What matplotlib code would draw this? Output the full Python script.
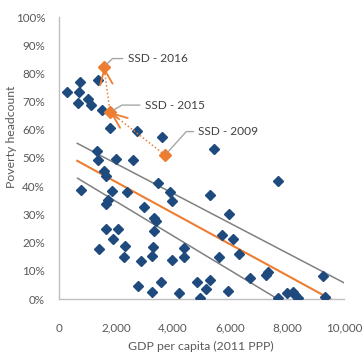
import matplotlib
matplotlib.use("Agg")
import matplotlib.pyplot as plt
import numpy as np

# GDP per capita (2011 PPP) and poverty headcount (%) by country
gdp = [290, 737, 710, 655, 1030, 1110, 1380, 1500, 1790, 2720,
       3620, 1340, 1380, 1990, 2590, 1590, 1650, 760, 1850, 2375,
       3460, 3890, 1730, 1640, 2990, 3330, 3400, 3950, 1650, 2060,
       3330, 1880, 2320, 1400, 3310, 2290, 3250, 2870, 3950, 2780,
       3580, 3270, 5450, 5300, 5980, 5730, 6120, 6320, 4400, 4390,
       5610, 6700, 4850, 5300, 5150, 5940, 4220, 4950, 7700, 7340,
       7260, 9270, 9330, 7670, 7990, 8220, 8280, 8370]
poverty = [73.5, 77.0, 73.5, 69.6, 71.0, 68.8, 77.7, 67.0, 60.5, 59.6,
           57.5, 52.6, 49.3, 49.6, 49.3, 45.5, 43.6, 38.6, 38.4, 38.0,
           41.0, 38.0, 35.1, 33.7, 32.5, 28.6, 27.8, 34.8, 24.8, 25.0,
           24.1, 21.3, 18.9, 17.7, 18.5, 15.0, 15.2, 13.5, 13.8, 4.7,
           6.1, 2.6, 53.2, 36.9, 30.0, 22.7, 21.3, 16.0, 18.2, 15.0,
           14.8, 7.3, 6.1, 6.7, 3.5, 2.8, 2.2, 0.2, 42.0, 9.7,
           8.5, 8.3, 0.8, 0.5, 2.0, 2.6, 1.4, 0.3]

# South Sudan over time
ssd_years = ["2009", "2015", "2016"]
ssd_gdp = [3720, 1790, 1580]
ssd_poverty = [51.0, 66.3, 82.3]

# fitted line and band edges (endpoints)
fit_x = [640, 9630]
fit_y = [49.0, -0.6]
band_hi_x = [640, 10030]
band_hi_y = [55.2, 5.6]
band_lo_x = [655, 7640]
band_lo_y = [42.8, 0.2]

BLUE = "#1F4A7E"
ORANGE = "#ED7D31"
GREY = "#808080"
TXT = "#595959"

plt.rcParams["font.family"] = ["Lato", "DejaVu Sans"]

W, H = 363, 354
fig = plt.figure(figsize=(W / 100, H / 100), dpi=100)
ax = fig.add_axes([59 / W, 55 / H, 285 / W, 282 / H])

ax.plot(band_hi_x, band_hi_y, color=GREY, lw=1.1, zorder=2)
ax.plot(band_lo_x, band_lo_y, color=GREY, lw=1.1, zorder=2)
ax.plot(fit_x, fit_y, color=ORANGE, lw=1.5, zorder=2)

ax.plot(gdp, poverty, ls="none", marker="D", ms=4.6, color=BLUE, zorder=3)

# dotted path between the South Sudan years
ax.plot(ssd_gdp, ssd_poverty, ls=(0, (1, 1.5)), lw=1.1, color=ORANGE, zorder=4)
for i in range(len(ssd_years) - 1):
    tip = np.array([ssd_gdp[i + 1], ssd_poverty[i + 1]])
    src = np.array([ssd_gdp[i], ssd_poverty[i]])
    tail = tip + 0.15 * (src - tip)
    ax.annotate("", xy=tip, xytext=tail,
                arrowprops=dict(arrowstyle="->,head_length=1.1,head_width=0.45",
                                color=ORANGE, lw=1.3, shrinkA=0, shrinkB=0),
                zorder=4)
ax.plot(ssd_gdp, ssd_poverty, ls="none", marker="D", ms=6.5, color=ORANGE, zorder=5)

# labels with leader lines
label_offsets = {"2009": (24, 17, 48), "2015": (25, 5, 30), "2016": (17, 6, 45)}
for yr, gx, py in zip(ssd_years, ssd_gdp, ssd_poverty):
    dx, dy, ang = label_offsets[yr]
    ax.annotate(f"SSD - {yr}", xy=(gx, py), xytext=(dx, dy),
                textcoords="offset points", ha="left", va="center",
                fontsize=8.6, color="#404040",
                arrowprops=dict(arrowstyle="-", color="#A6A6A6", lw=1,
                                relpos=(0, 0.5), shrinkA=1.5, shrinkB=3,
                                connectionstyle=f"angle,angleA=0,angleB={ang},rad=0"),
                zorder=6)

ax.set_xlim(0, 10000)
ax.set_ylim(0, 100)
ax.set_xticks(np.arange(0, 10001, 2000))
ax.set_xticklabels([f"{v:,}" for v in range(0, 10001, 2000)])
ax.set_yticks(np.arange(0, 101, 10))
ax.set_yticklabels([f"{v}%" for v in range(0, 101, 10)])
ax.tick_params(length=0, labelsize=8.4, colors=TXT)
ax.tick_params(axis="x", pad=17)
ax.tick_params(axis="y", pad=10)

for side in ["top", "right"]:
    ax.spines[side].set_visible(False)
for side in ["left", "bottom"]:
    ax.spines[side].set_color("#BFBFBF")
    ax.spines[side].set_linewidth(1)

fig.text(201 / W, 1 - 346 / H, "GDP per capita (2011 PPP)", ha="center", va="center",
         fontsize=8.8, color=TXT)
fig.text(12 / W, 1 - 137 / H, "Poverty headcount", ha="center", va="center",
         rotation=90, fontsize=8.8, color=TXT)

fig.savefig("out.png", dpi=100)
